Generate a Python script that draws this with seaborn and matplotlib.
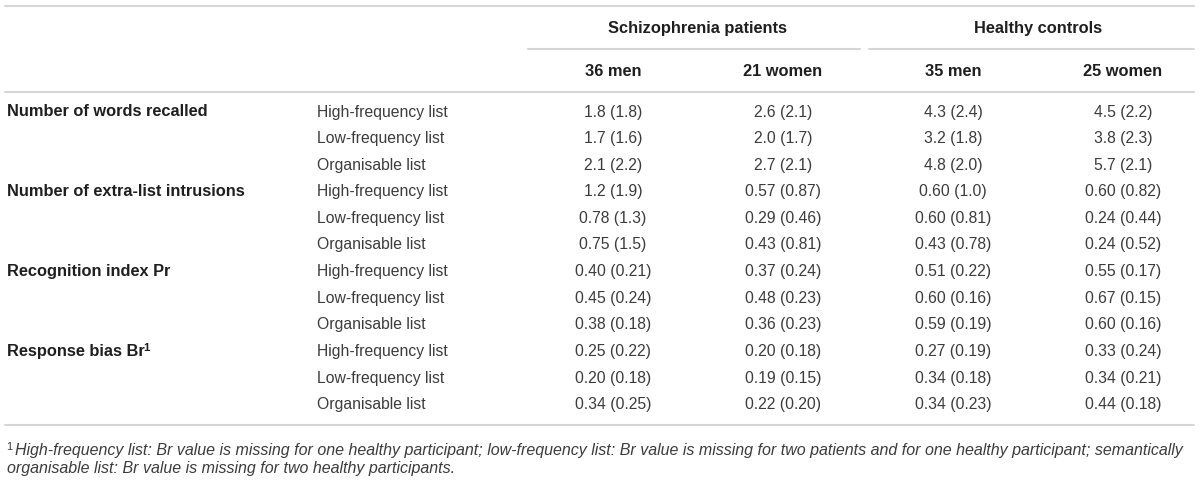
import matplotlib
matplotlib.use("Agg")
import matplotlib.pyplot as plt
import seaborn as sns

# table content
groups = ["Schizophrenia patients", "Healthy controls"]
subgroups = ["36 men", "21 women", "35 men", "25 women"]
measures = ["Number of words recalled", "Number of extra-list intrusions",
            "Recognition index Pr", "Response bias Br"]
lists = ["High-frequency list", "Low-frequency list", "Organisable list"]

men_sz = ["1.8 (1.8)", "1.7 (1.6)", "2.1 (2.2)",
          "1.2 (1.9)", "0.78 (1.3)", "0.75 (1.5)",
          "0.40 (0.21)", "0.45 (0.24)", "0.38 (0.18)",
          "0.25 (0.22)", "0.20 (0.18)", "0.34 (0.25)"]
women_sz = ["2.6 (2.1)", "2.0 (1.7)", "2.7 (2.1)",
            "0.57 (0.87)", "0.29 (0.46)", "0.43 (0.81)",
            "0.37 (0.24)", "0.48 (0.23)", "0.36 (0.23)",
            "0.20 (0.18)", "0.19 (0.15)", "0.22 (0.20)"]
men_hc = ["4.3 (2.4)", "3.2 (1.8)", "4.8 (2.0)",
          "0.60 (1.0)", "0.60 (0.81)", "0.43 (0.78)",
          "0.51 (0.22)", "0.60 (0.16)", "0.59 (0.19)",
          "0.27 (0.19)", "0.34 (0.18)", "0.34 (0.23)"]
women_hc = ["4.5 (2.2)", "3.8 (2.3)", "5.7 (2.1)",
            "0.60 (0.82)", "0.24 (0.44)", "0.24 (0.52)",
            "0.55 (0.17)", "0.67 (0.15)", "0.60 (0.16)",
            "0.33 (0.24)", "0.34 (0.21)", "0.44 (0.18)"]
columns = [men_sz, women_sz, men_hc, women_hc]

footnote = ["High-frequency list: Br value is missing for one healthy participant; "
            "low-frequency list: Br value is missing for two patients and for one "
            "healthy participant; semantically",
            "organisable list: Br value is missing for two healthy participants."]

sns.set_style("white")
plt.rcParams["font.family"] = ["Liberation Sans", "DejaVu Sans"]

fig = plt.figure(figsize=(12, 4.8), dpi=100)
ax = fig.add_axes([0, 0, 1, 1])
ax.set_xlim(0, 1200)
ax.set_ylim(480, 0)
ax.axis("off")

fs = 11.3
fs_b = 11.8
fs_note = 11.5
dark = "#1f1f1f"
grey = "#3c3c3c"
rule = "#d6d6d6"
col_x = [613, 783, 953, 1123]

# rules
ax.plot([5, 1194], [6, 6], color=rule, lw=1.5)
ax.plot([528, 860], [49, 49], color=rule, lw=1.5)
ax.plot([869, 1194], [49, 49], color=rule, lw=1.5)
ax.plot([5, 1194], [92, 92], color=rule, lw=1.5)
ax.plot([5, 1194], [425, 425], color=rule, lw=1.5)

# headers
ax.text((col_x[0] + col_x[1]) / 2, 28, groups[0], ha="center", va="center",
        fontsize=fs_b, fontweight="bold", color=dark)
ax.text((col_x[2] + col_x[3]) / 2, 28, groups[1], ha="center", va="center",
        fontsize=fs_b, fontweight="bold", color=dark)
for x, s in zip(col_x, subgroups):
    ax.text(x, 72, s, ha="center", va="center", fontsize=fs_b,
            fontweight="bold", color=dark)

# body
row_y = [112 + 26.6 * i for i in range(12)]
renderer = fig.canvas.get_renderer()
for m, name in enumerate(measures):
    t = ax.text(7, row_y[3 * m], name, ha="left", va="center", fontsize=fs_b,
                fontweight="bold", color=dark)
    if name == "Response bias Br":
        bb = t.get_window_extent(renderer)
        ax.text(bb.x1 - 1, row_y[3 * m] - 3, "1", ha="left", va="center",
                fontsize=fs_b * 0.7, fontweight="bold", color=dark)
    for k, lab in enumerate(lists):
        ax.text(317, row_y[3 * m + k], lab, ha="left", va="center",
                fontsize=fs, color=grey)
for x, col in zip(col_x, columns):
    for y, v in zip(row_y, col):
        ax.text(x, y, v, ha="center", va="center", fontsize=fs, color=grey)

# footnote
ax.text(6, 447, "1", ha="left", va="center", fontsize=fs * 0.7, color=grey)
ax.text(15, 450, footnote[0], ha="left", va="center", fontsize=fs_note,
        style="italic", color=grey)
ax.text(7, 469, footnote[1], ha="left", va="center", fontsize=fs_note,
        style="italic", color=grey)

fig.savefig("out.png", dpi=100)
